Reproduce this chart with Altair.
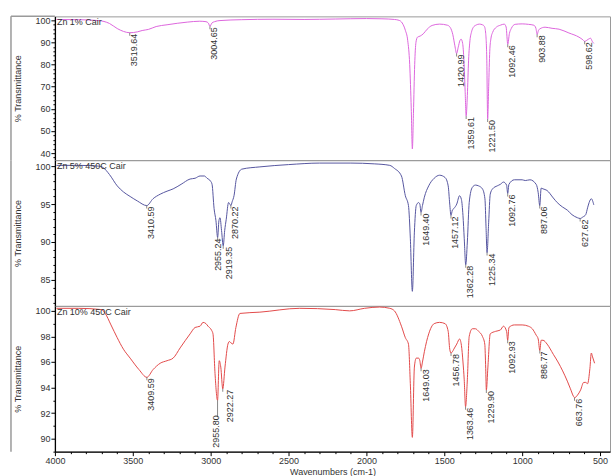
import altair as alt
import pandas as pd

# ---------------- data ----------------
panel_names = ["Zn 1% Cair", "Zn 5% 450C Cair", "Zn 10% 450C Cair"]
line_colors = ["#dd66dd", "#5656a0", "#e24a4a"]

wn_1 = [3990, 3850, 3720, 3650, 3600, 3560, 3519.64, 3470, 3440, 3400, 3350, 3280, 3150, 3070,
        3030, 3015, 3004.65, 2992, 2975, 2940, 2800, 2600, 2400, 2200, 2000, 1900, 1820, 1790,
        1770, 1750, 1735, 1722, 1712, 1705, 1698, 1690, 1682, 1672, 1655, 1635, 1610, 1578, 1530,
        1480, 1462, 1445, 1432, 1420.99, 1410, 1400, 1392, 1382, 1374, 1366, 1359.61, 1352, 1344,
        1335, 1325, 1314, 1295, 1275, 1255, 1242, 1234, 1227, 1221.50, 1215, 1208, 1200, 1190,
        1166, 1140, 1115, 1103, 1092.46, 1082, 1070, 1045, 1000, 960, 925, 912, 903.88, 895, 885,
        853, 808, 763, 700, 635, 610, 598.62, 585, 572, 560, 550, 540]
t_1 = [100.4, 100.3, 99.9, 98.6, 96.3, 95.0, 94.4, 94.8, 95.4, 95.9, 97.2, 98.0, 99.2, 99.6,
       99.4, 98.8, 97.3, 98.8, 99.4, 99.9, 100.3, 100.5, 100.4, 100.6, 100.8, 100.7, 100.4, 100.0,
       98.8, 95.5, 91.0, 80.0, 60.0, 41.9, 58.0, 80.0, 90.0, 92.4, 92.9, 93.9, 96.0, 97.7, 98.3,
       97.8, 96.8, 93.5, 88.5, 85.0, 88.0, 90.8, 91.5, 89.5, 82.0, 68.0, 56.8, 66.0, 82.0,
       91.0, 94.8, 96.8, 97.9, 98.3, 98.0, 97.2, 94.0, 82.0, 55.4, 70.0, 86.0, 92.0, 94.5,
       96.9, 97.8, 98.3, 97.0, 89.2, 94.0, 96.3, 98.2, 98.4, 98.2, 97.8, 96.5, 93.7, 95.5, 96.2,
       96.9, 96.4, 96.0, 94.3, 92.4, 91.2, 90.5, 91.0, 91.6, 91.9, 90.5, 89.6]
peaks_1 = [3519.64, 3004.65, 1420.99, 1359.61, 1221.50, 1092.46, 903.88, 598.62]

wn_2 = [3990, 3850, 3720, 3690, 3650, 3600, 3560, 3517, 3470, 3410.59, 3370, 3324, 3280, 3241,
        3190, 3132, 3100, 3068, 3040, 3023, 3000, 2991, 2978, 2966, 2955.24, 2947, 2940, 2930,
        2919.35, 2910, 2900, 2885, 2877, 2870.22, 2862, 2850, 2835, 2800, 2684, 2500, 2300, 2100,
        1950, 1850, 1820, 1775, 1750, 1730, 1718, 1705, 1692, 1680, 1665, 1657, 1649.40, 1640,
        1628, 1600, 1565, 1530, 1495, 1475, 1465, 1457.12, 1448, 1439, 1420, 1402, 1390, 1380,
        1372, 1362.28, 1352, 1340, 1320, 1300, 1280, 1255, 1239, 1232, 1225.34, 1215, 1205, 1190,
        1160, 1140, 1120, 1100, 1092.76, 1085, 1050, 1000, 980, 950, 910, 897, 887.06, 878, 866,
        841, 800, 775, 740, 710, 680, 645, 627.62, 610, 592, 580, 570, 556, 540]
t_2 = [100.1, 100.1, 100.0, 99.8, 98.9, 97.4, 96.6, 96.0, 95.4, 94.8, 95.7, 96.3, 96.7, 97.0,
       97.6, 98.3, 98.4, 98.7, 98.7, 98.4, 98.0, 97.6, 94.4, 92.8, 90.6, 92.8, 93.2, 91.5,
       89.5, 91.5, 93.0, 95.2, 95.0, 94.8, 95.3, 96.1, 98.3, 99.6, 99.9, 100.2, 100.4, 100.4,
       100.3, 100.1, 99.7, 98.7, 96.1, 94.8, 90.5, 83.5, 91.3, 94.8, 95.2, 95.0, 93.9, 94.8,
       95.9, 97.4, 98.4, 98.8, 98.5, 97.4, 95.0, 93.5, 94.2, 94.4, 95.0, 96.1, 95.6, 93.5,
       90.5, 87.0, 90.0, 95.2, 97.2, 97.5, 97.4, 97.0, 95.7, 92.0, 88.6, 92.6, 96.3, 97.0,
       97.4, 97.6, 97.9, 97.5, 96.4, 97.6, 98.2, 98.2, 98.1, 98.2, 97.6, 96.5, 94.8, 97.1, 97.0,
       96.8, 95.8, 95.2, 94.6, 94.2, 93.6, 93.2, 93.1, 93.3, 93.6, 94.5, 95.2, 95.7, 94.9]
peaks_2 = [3410.59, 2955.24, 2919.35, 2870.22, 1649.40, 1457.12, 1362.28, 1225.34, 1092.76,
           887.06, 627.62]

wn_3 = [3990, 3850, 3700, 3677, 3640, 3600, 3560, 3517, 3460, 3409.59, 3370, 3324, 3280, 3241,
        3196, 3132, 3100, 3068, 3049, 3030, 3017, 2995, 2985, 2972, 2955.80, 2945, 2935, 2922.27,
        2908, 2889, 2880, 2870, 2857, 2838, 2812, 2684, 2428, 2200, 2108, 2012, 1915, 1850, 1820,
        1775, 1750, 1730, 1718, 1705, 1692, 1680, 1665, 1657, 1649.03, 1640, 1628, 1600, 1565,
        1530, 1495, 1475, 1465, 1456.78, 1448, 1439, 1420, 1402, 1390, 1380, 1372, 1363.46, 1352,
        1340, 1320, 1300, 1280, 1255, 1240, 1234, 1229.90, 1220, 1205, 1170, 1140, 1120, 1100,
        1092.93, 1085, 1050, 1000, 960, 935, 910, 897, 886.77, 878, 866, 840, 800, 770, 740, 710,
        690, 670, 663.76, 645, 625, 605, 592, 580, 565, 556, 548, 535]
t_3 = [100.2, 100.2, 100.1, 99.8, 98.9, 97.9, 97.0, 96.3, 95.4, 94.8, 95.4, 95.9, 96.1, 96.3,
       97.1, 98.2, 98.7, 98.8, 99.1, 99.0, 98.8, 98.5, 98.2, 95.1, 93.0, 96.1, 95.6, 93.9,
       95.6, 97.4, 97.6, 97.5, 97.4, 98.7, 99.8, 99.9, 100.2, 100.1, 100.0, 100.2, 100.3, 100.2, 100.0,
       98.8, 97.9, 97.4, 94.3, 90.1, 95.6, 96.3, 96.3, 96.1, 95.5, 96.0, 96.8, 98.2, 99.0,
       99.1, 99.0, 98.4, 97.0, 96.7, 96.8, 97.0, 97.4, 97.8, 97.3, 96.0, 94.6, 92.5, 94.6,
       98.0, 98.6, 98.6, 98.4, 98.0, 97.4, 95.5, 93.8, 95.6, 98.2, 98.4, 98.5, 98.8, 98.4,
       97.7, 98.7, 98.9, 98.9, 98.8, 98.6, 98.1, 97.8, 96.9, 97.7, 97.7, 97.4, 96.6, 96.0, 95.3, 94.5,
       93.9, 93.3, 93.2, 93.4, 93.8, 94.4, 94.4, 94.3, 95.5, 96.7, 96.4, 95.9]
peaks_3 = [3409.59, 2955.80, 2922.27, 1649.03, 1456.78, 1363.46, 1229.90, 1092.93, 886.77, 663.76]

x_ticks = list(range(500, 4001, 100))
y_ticks_1 = list(range(38, 101, 2))
y_ticks_2 = list(range(82, 101, 1))
y_ticks_3 = [89, 89.5, 90, 90.5, 91, 91.5, 92, 92.5, 93, 93.5, 94, 94.5, 95, 95.5, 96, 96.5,
             97, 97.5, 98, 98.5, 99, 99.5, 100]

# ---------------- chart ----------------
W = 556
XDOM = [4000, 436]
FONT = "Liberation Sans"
TXT = "#333333"
FRAME = "#9a9a9a"

# screen offsets (right, down) in pixels of each peak label from its peak
BASE = (4.5, 1)
nudges = {"2955.24": (0.5, 1), "2919.35": (6, 1), "2955.80": (-2, 15), "2922.27": (7, 1)}


def panel(name, wn, t, peaks, color, ydom, yvals, major, h, bottom):
    assert len(wn) == len(t), name
    df = pd.DataFrame({"wn": wn, "T": t})
    look = dict(zip(wn, t))
    pk = pd.DataFrame({"wn": peaks, "T": [look[p] for p in peaks],
                       "label": [f"{p:.2f}" for p in peaks]})
    if bottom:
        xaxis = alt.Axis(values=x_ticks, format="d",
                         labelExpr="datum.value % 500 === 0 ? datum.label : ''",
                         tickSize={"condition": {"test": "datum.value % 500 === 0", "value": 4}, "value": 2},
                         title="Wavenumbers (cm-1)", labelFlush=False, labelOverlap=False,
                         labelPadding=1, titlePadding=2)
    else:
        xaxis = None
    X = alt.X("wn:Q", scale=alt.Scale(domain=XDOM, nice=False, zero=False), axis=xaxis)
    Y = alt.Y("T:Q", scale=alt.Scale(domain=ydom, nice=False, zero=False),
              axis=alt.Axis(values=yvals, format="d",
                            labelExpr=f"datum.value % {major} === 0 ? datum.label : ''",
                            tickSize={"condition": {"test": f"datum.value % {major} === 0", "value": 4}, "value": 2},
                            title="% Transmittance", titleX=-37, titleY=h / 2,
                            titleBaseline="middle", labelFlush=False, labelOverlap=False,
                            labelPadding=1))
    layers = []
    line = alt.Chart(df).mark_line(color=color, strokeWidth=1, clip=True,
                                   interpolate="monotone").encode(x=X, y=Y)
    layers.append(line)

    groups = {}
    for lab in pk["label"]:
        groups.setdefault(nudges.get(lab, BASE), []).append(lab)
    for (right, down), labs in groups.items():
        sub = pk[pk["label"].isin(labs)]
        tick_len = max(3, down + 2)
        layers.append(alt.Chart(sub).mark_tick(
            orient="vertical", size=tick_len, thickness=1, yOffset=tick_len / 2,
            color="#555555").encode(x=X, y=Y))
        # text is rotated 270 deg: dx runs along the text (up), dy runs to the right
        layers.append(alt.Chart(sub).mark_text(
            angle=270, align="right", baseline="middle", fontSize=9, color=TXT,
            dx=-down, dy=right).encode(x=X, y=Y, text="label:N"))

    one = pd.DataFrame({"name": [name]})
    layers.append(alt.Chart(one).mark_text(align="left", baseline="middle", fontSize=9,
                                           color=TXT).encode(
        text="name:N", x=alt.value(2), y=alt.value(6)))
    layers.append(alt.Chart(one).mark_rule(color=FRAME, strokeWidth=1.5).encode(
        x=alt.value(-44), y=alt.value(0), y2=alt.value(h)))
    if name == panel_names[0]:
        layers.append(alt.Chart(one).mark_rule(color=FRAME, strokeWidth=1.5).encode(
            x=alt.value(-44), x2=alt.value(0), y=alt.value(0)))
    return alt.layer(*layers).properties(width=W, height=h)


p1 = panel(panel_names[0], wn_1, t_1, peaks_1, line_colors[0], [36.84, 101.8], y_ticks_1, 10, 144, False)
p2 = panel(panel_names[1], wn_2, t_2, peaks_2, line_colors[1], [81.58, 100.79], y_ticks_2, 5, 146, False)
p3 = panel(panel_names[2], wn_3, t_3, peaks_3, line_colors[2], [88.98, 100.39], y_ticks_3, 2, 146, True)

chart = alt.vconcat(p1, p2, p3, spacing=0, bounds="flush").properties(
    padding={"left": 9, "top": 14, "right": 0, "bottom": 0}
).configure(font=FONT).configure_axis(
    domainColor="#000000", domainWidth=1.3, tickColor="#000000", tickWidth=1,
    labelColor=TXT, labelFontSize=9, labelFont=FONT, titleFont=FONT,
    titleFontSize=9, titleFontWeight="normal", titleColor=TXT, grid=False
).configure_view(stroke=FRAME, strokeWidth=1)

chart.save("out.html", embed_options={"renderer": "svg", "actions": False})
